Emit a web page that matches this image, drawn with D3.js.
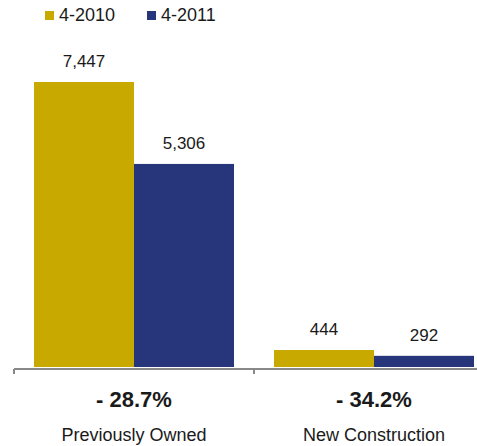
<!DOCTYPE html>
<html>
<head>
<meta charset="utf-8">
<script src="https://cdn.jsdelivr.net/npm/d3@7"></script>
<style>
  body { margin: 0; background: #fff; }
  text { font-family: "Liberation Sans", Arial, Helvetica, sans-serif; fill: #1a1a1a; }
</style>
</head>
<body>
<div id="chart"></div>
<script>
// Chart data
const categories = ["Previously Owned", "New Construction"];
const seriesNames = ["4-2010", "4-2011"];
const values2010 = [7447, 444];
const values2011 = [5306, 292];
const changeLabels = ["- 28.7%", "- 34.2%"];
const colors = ["#c8a900", "#27357a"];

const WIDTH = 477;
const HEIGHT = 446;

const svg = d3.select("#chart").append("svg")
  .attr("width", WIDTH)
  .attr("height", HEIGHT);

// rows for grouped bars
const rows = categories.map((c, i) => ({
  category: c,
  values: [values2010[i], values2011[i]]
}));

// SCALES
const x0 = d3.scaleBand()
  .domain(categories)
  .range([14, 494])
  .padding(0);

const x1 = d3.scaleBand()
  .domain(seriesNames)
  .range([x0.bandwidth() / 12, x0.bandwidth() * 11 / 12]);

const y = d3.scaleLinear()
  .domain([0, 7447])
  .range([367, 82]);

// Bars
const groups = svg.selectAll(".group")
  .data(rows)
  .join("g")
  .attr("class", "group")
  .attr("transform", (d) => `translate(${x0(d.category)},0)`);

groups.selectAll("rect")
  .data((d) => d.values.map((v, i) => ({ name: seriesNames[i], value: v })))
  .join("rect")
  .attr("x", (d) => x1(d.name))
  .attr("y", (d) => y(d.value))
  .attr("width", x1.bandwidth())
  .attr("height", (d) => y(0) - y(d.value))
  .attr("fill", (d, i) => colors[i]);

// Value labels
groups.selectAll(".val")
  .data((d) => d.values.map((v, i) => ({ name: seriesNames[i], value: v })))
  .join("text")
  .attr("class", "val")
  .attr("x", (d) => x1(d.name) + x1.bandwidth() / 2)
  .attr("y", (d) => y(d.value) - 15)
  .attr("text-anchor", "middle")
  .style("font-size", "17px")
  .text((d) => d3.format(",")(d.value));

// X axis
const axis = svg.append("g")
  .attr("transform", "translate(0,369)")
  .call(d3.axisBottom(x0).tickValues([]).tickSizeOuter(0));
axis.select(".domain").remove();
axis.append("line")
  .attr("x1", 14).attr("x2", WIDTH)
  .attr("stroke", "#888").attr("stroke-width", 2);
axis.selectAll(".sep")
  .data(categories)
  .join("line")
  .attr("class", "sep")
  .attr("x1", (d) => x0(d)).attr("x2", (d) => x0(d))
  .attr("y1", 0).attr("y2", 5)
  .attr("stroke", "#888").attr("stroke-width", 2);

// Change labels and category names
svg.selectAll(".chg")
  .data(categories)
  .join("text")
  .attr("class", "chg")
  .attr("x", (d) => x0(d) + x0.bandwidth() / 2)
  .attr("y", 407)
  .attr("text-anchor", "middle")
  .style("font-size", "22px")
  .style("font-weight", "bold")
  .text((d, i) => changeLabels[i]);

svg.selectAll(".cat")
  .data(categories)
  .join("text")
  .attr("class", "cat")
  .attr("x", (d) => x0(d) + x0.bandwidth() / 2)
  .attr("y", 441)
  .attr("text-anchor", "middle")
  .style("font-size", "18px")
  .text((d) => d);

// Legend
const legend = svg.selectAll(".legend")
  .data(seriesNames)
  .join("g")
  .attr("class", "legend")
  .attr("transform", (d, i) => `translate(${45 + i * 102},0)`);

legend.append("rect")
  .attr("width", 9).attr("height", 9)
  .attr("y", 11)
  .attr("fill", (d, i) => colors[i]);

legend.append("text")
  .attr("x", 14)
  .attr("y", 21)
  .style("font-size", "18px")
  .text((d) => d);
</script>
</body>
</html>
